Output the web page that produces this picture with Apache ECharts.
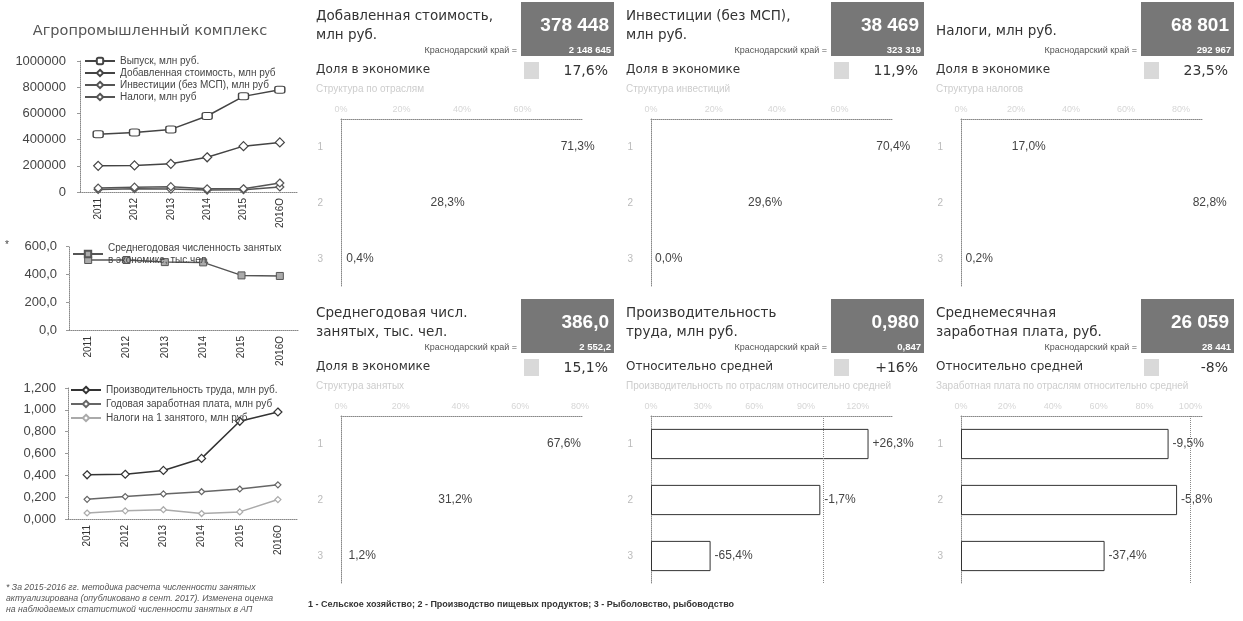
<!DOCTYPE html>
<html><head><meta charset="utf-8">
<script src="https://cdn.jsdelivr.net/npm/echarts@6/dist/echarts.min.js"></script>
<style>html,body{margin:0;padding:0;background:#fff}#c{width:1243px;height:621px}</style>
</head><body><div id="c"></div>
<script>
// ---------- data ----------
const years = ['2011','2012','2013','2014','2015','2016О'];
const output = [440000, 455000, 478000, 580000, 730000, 780000];
const valueAdded = [200000, 203000, 215000, 265000, 350000, 378448];
const investments = [20000, 25000, 22000, 15000, 18000, 38469];
const taxes = [30000, 37000, 41000, 24000, 25000, 68801];
const employed = [500, 500, 485, 483, 390, 386.0];
const productivity = [0.405, 0.41, 0.445, 0.555, 0.895, 0.980];
const annualWage = [0.18, 0.205, 0.23, 0.25, 0.275, 0.313];
const taxPerEmployed = [0.055, 0.075, 0.085, 0.05, 0.065, 0.178];

const names1 = ['Выпуск, млн руб.', 'Добавленная стоимость, млн руб', 'Инвестиции (без МСП), млн руб', 'Налоги, млн руб'];
const name2 = 'Среднегодовая численность занятых\nв экономике, тыс.чел.';
const names3 = ['Производительность труда, млн руб.', 'Годовая заработная плата, млн руб', 'Налоги на 1 занятого, млн руб'];

const leftTitle = 'Агропромышленный комплекс';
const footnote = ['* За 2015-2016 гг. методика расчета численности занятых',
  'актуализирована (опубликовано в сент. 2017). Изменена оценка',
  'на наблюдаемых статистикой численности занятых в АП'];

const panelTitles = [['Добавленная стоимость,','млн руб.'], ['Инвестиции (без МСП),','млн руб.'], ['Налоги, млн руб.'],
  ['Среднегодовая числ.','занятых, тыс. чел.'], ['Производительность','труда, млн руб.'], ['Среднемесячная','заработная плата, руб.']];
const panelValues = ['378 448','38 469','68 801','386,0','0,980','26 059'];
const regionLabel = 'Краснодарский край =';
const regionValues = ['2 148 645','323 319','292 967','2 552,2','0,847','28 441'];
const compareLabels = ['Доля в экономике','Доля в экономике','Доля в экономике','Доля в экономике','Относительно средней','Относительно средней'];
const compareValues = ['17,6%','11,9%','23,5%','15,1%','+16%','-8%'];
const panelSubtitles = ['Структура по отраслям','Структура инвестиций','Структура налогов','Структура занятых',
  'Производительность по отраслям относительно средней','Заработная плата по отраслям относительно средней'];
const branches = ['1','2','3'];
const shareVA = [71.3, 28.3, 0.4];
const shareInv = [70.4, 29.6, 0.0];
const shareTax = [17.0, 82.8, 0.2];
const shareEmp = [67.6, 31.2, 1.2];
const prodDev = [26.3, -1.7, -65.4];
const wageDev = [-9.5, -5.8, -37.4];
const branchNote = '1 - Сельское хозяйство; 2 - Производство пищевых продуктов; 3 - Рыболовство, рыбоводство';

// ---------- helpers ----------
const FONT = "'Liberation Sans', Arial, sans-serif";
const WIDE = "'DejaVu Sans', Verdana, sans-serif";
const comma = (v, d) => v.toFixed(d).replace('.', ',');
const pct = v => comma(v, 1) + '%';
const spct = v => (v > 0 ? '+' : '') + comma(v, 1) + '%';
const dotted = {lineStyle: {type: 'dotted', color: '#888', width: 1}};

const grids = [], xAxes = [], yAxes = [], series = [], legends = [], graphics = [];

function lineChart(idx, grid, yCfg, legendCfg) {
  grids.push(grid);
  xAxes.push({type: 'category', gridIndex: idx, data: years, boundaryGap: true,
    axisLine: dotted, axisTick: {show: false},
    axisLabel: {rotate: 90, fontSize: 10, color: '#333', fontFamily: FONT, margin: 6}});
  yAxes.push(Object.assign({type: 'value', gridIndex: idx, splitLine: {show: false},
    axisLine: Object.assign({show: true}, dotted), axisTick: {show: true, length: 3, lineStyle: {color: '#999'}}}, yCfg));
  legends.push(Object.assign({orient: 'vertical', padding: 0, itemWidth: 30, itemHeight: 8,
    textStyle: {fontSize: 10, color: '#444', fontFamily: FONT, lineHeight: 12}}, legendCfg));
}
function lineSeries(idx, name, data, color, symbol, size) {
  series.push({type: 'line', name, data, xAxisIndex: idx, yAxisIndex: idx, symbol, symbolSize: size,
    lineStyle: {color, width: 1.5}, itemStyle: {color: '#fff', borderColor: color, borderWidth: 1.2}});
}

// left chart 1
lineChart(0, {left: 80, top: 61, width: 218, height: 131},
  {min: 0, max: 1000000, interval: 200000,
   axisLabel: {fontSize: 13, color: '#444', fontFamily: FONT, margin: 14, formatter: v => String(v)}},
  {left: 84, top: 55, itemGap: 0, data: names1});
lineSeries(0, names1[0], output, '#444', 'roundRect', [10, 7]);
lineSeries(0, names1[1], valueAdded, '#444', 'diamond', 9);
lineSeries(0, names1[2], investments, '#555', 'diamond', 8);
lineSeries(0, names1[3], taxes, '#555', 'diamond', 8);

// left chart 2
lineChart(1, {left: 69, top: 246, width: 230, height: 84},
  {min: 0, max: 600, interval: 200,
   axisLabel: {fontSize: 13, color: '#444', fontFamily: FONT, margin: 12, formatter: v => comma(v, 1)}},
  {left: 72, top: 242, data: [name2]});
series.push({type: 'line', name: name2, data: employed, xAxisIndex: 1, yAxisIndex: 1, symbol: 'rect', symbolSize: 7,
  lineStyle: {color: '#555', width: 1.5}, itemStyle: {color: '#aaa', borderColor: '#555', borderWidth: 1}});

// left chart 3
lineChart(2, {left: 68, top: 388, width: 229, height: 131},
  {min: 0, max: 1.2, interval: 0.2,
   axisLabel: {fontSize: 13, color: '#444', fontFamily: FONT, margin: 12, formatter: v => comma(v, 3)}},
  {left: 70, top: 384, itemGap: 2, data: names3});
lineSeries(2, names3[0], productivity, '#333', 'diamond', 8);
lineSeries(2, names3[1], annualWage, '#666', 'diamond', 6);
lineSeries(2, names3[2], taxPerEmployed, '#aaa', 'diamond', 6);

graphics.push({type: 'text', style: {text: leftTitle, x: 150, y: 31, textAlign: 'center', textVerticalAlign: 'middle',
  fill: '#555', font: '14.5px ' + WIDE}});
graphics.push({type: 'text', style: {text: '*', x: 5, y: 240, fill: '#444', font: '10px ' + FONT}});
footnote.forEach((t, i) => graphics.push({type: 'text', style: {text: t, x: 6, y: 588 + i * 11, textVerticalAlign: 'middle',
  fill: '#555', font: 'italic 8.7px ' + FONT}}));

// right panels
const cols = [310, 620, 930], rows = [0, 297];
const barData = [shareVA, shareInv, shareTax, shareEmp, prodDev, wageDev];
const maxes = [80, 77, 88, 81, 140.5, 105.5];
for (let p = 0; p < 6; p++) {
  const x0 = cols[p % 3], y0 = rows[Math.floor(p / 3)];
  const idx = 3 + p;
  const isDev = p >= 4;
  grids.push({left: x0 + 31, top: y0 + 119, width: 242, height: 168});
  xAxes.push({type: 'value', gridIndex: idx, position: 'top', min: 0, max: maxes[p], splitLine: {show: false},
    axisLine: Object.assign({show: true}, dotted), axisTick: {show: false},
    axisLabel: {color: '#d6d6d6', fontSize: 9, fontFamily: FONT, margin: 5, showMaxLabel: false, formatter: '{value}%'}});
  yAxes.push({type: 'category', gridIndex: idx, data: branches, inverse: true,
    axisLine: dotted, axisTick: {show: false},
    axisLabel: {color: '#bbb', fontSize: 10, fontFamily: FONT, margin: 18}});
  const vals = barData[p];
  const s = {type: 'bar', xAxisIndex: idx, yAxisIndex: idx, barWidth: isDev ? '54%' : '50%',
    data: isDev ? vals.map(d => 100 + d) : vals,
    itemStyle: isDev ? {color: 'rgba(255,255,255,0)', borderColor: '#333', borderWidth: 1} : {color: 'rgba(255,255,255,0)'},
    label: {show: true, position: 'right', distance: 4, color: '#444', fontSize: 12, fontFamily: FONT,
      formatter: prm => isDev ? spct(vals[prm.dataIndex]) : pct(vals[prm.dataIndex])}};
  if (isDev) s.markLine = {silent: true, symbol: 'none', label: {show: false},
    lineStyle: {type: 'dotted', color: '#888', width: 1}, data: [{xAxis: 100}]};
  series.push(s);

  // texts
  const t = panelTitles[p];
  t.forEach((line, i) => graphics.push({type: 'text', style: {text: line, x: x0 + 6,
    y: y0 + (t.length === 1 ? 31 : 16 + i * 19), textVerticalAlign: 'middle', fill: '#333', font: '13.5px ' + WIDE}}));
  graphics.push({type: 'rect', shape: {x: x0 + 211, y: y0 + 2, width: 93, height: 54}, style: {fill: '#777'}});
  graphics.push({type: 'text', style: {text: panelValues[p], x: x0 + 299, y: y0 + 26, textAlign: 'right', textVerticalAlign: 'middle',
    fill: '#fff', font: 'bold 19px ' + FONT}});
  graphics.push({type: 'text', style: {text: regionValues[p], x: x0 + 301, y: y0 + 50, textAlign: 'right', textVerticalAlign: 'middle',
    fill: '#fff', font: 'bold 9.5px ' + FONT}});
  graphics.push({type: 'text', style: {text: regionLabel, x: x0 + 207, y: y0 + 51, textAlign: 'right', textVerticalAlign: 'middle',
    fill: '#555', font: '9px ' + FONT}});
  graphics.push({type: 'text', style: {text: compareLabels[p], x: x0 + 6, y: y0 + 70, textVerticalAlign: 'middle',
    fill: '#333', font: '12px ' + WIDE}});
  graphics.push({type: 'rect', shape: {x: x0 + 214, y: y0 + 62, width: 15, height: 17}, style: {fill: '#d9d9d9'}});
  graphics.push({type: 'text', style: {text: compareValues[p], x: x0 + 298, y: y0 + 71, textAlign: 'right', textVerticalAlign: 'middle',
    fill: '#333', font: '14px ' + WIDE}});
  graphics.push({type: 'text', style: {text: panelSubtitles[p], x: x0 + 6, y: y0 + 89, textVerticalAlign: 'middle',
    fill: '#cdcdcd', font: '10px ' + FONT}});
}
graphics.push({type: 'text', style: {text: branchNote, x: 308, y: 605, textVerticalAlign: 'middle', fill: '#333',
  font: 'bold 9px ' + FONT}});

const chart = echarts.init(document.getElementById('c'), null, {renderer: 'canvas'});
chart.setOption({
  animation: false, backgroundColor: '#fff',
  grid: grids, xAxis: xAxes, yAxis: yAxes, legend: legends, series, graphic: {elements: graphics}
});
</script></body></html>
